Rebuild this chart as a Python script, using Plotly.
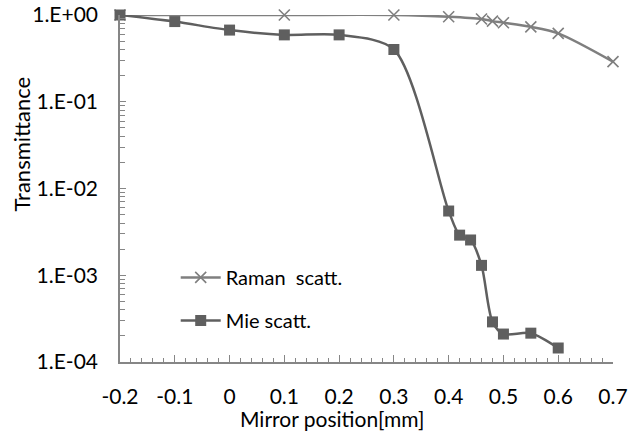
import plotly.graph_objects as go

raman_x = [-0.2, 0.1, 0.3, 0.4, 0.46, 0.48, 0.5, 0.55, 0.6, 0.7]
raman_y = [1.0, 1.0, 1.0, 0.955, 0.90, 0.85, 0.815, 0.73, 0.615, 0.29]

mie_x = [-0.2, -0.1, 0.0, 0.1, 0.2, 0.3, 0.4, 0.42, 0.44, 0.46, 0.48, 0.5, 0.55, 0.6]
mie_y = [1.0, 0.84, 0.67, 0.59, 0.59, 0.40, 5.5e-3, 2.9e-3, 2.55e-3, 1.3e-3,
         2.9e-4, 2.1e-4, 2.15e-4, 1.45e-4]

x_ticks = [-0.2, -0.1, 0, 0.1, 0.2, 0.3, 0.4, 0.5, 0.6, 0.7]
x_ticktext = ["-0.2", "-0.1", "0", "0.1", "0.2", "0.3", "0.4", "0.5", "0.6", "0.7"]
y_ticks = [1, 0.1, 0.01, 0.001, 0.0001]
y_ticktext = ["1.E+00", "1.E-01", "1.E-02", "1.E-03", "1.E-04"]

x_title = "Mirror position[mm]"
y_title = "Transmittance"

FONT = "Lato"
AXIS_COLOR = "#868686"
FS = 21

fig = go.Figure()
fig.add_trace(go.Scatter(
    x=raman_x, y=raman_y, name="Raman  scatt.", mode="lines+markers",
    line=dict(color="#7f7f7f", width=2.5, shape="spline", smoothing=0.8),
    marker=dict(symbol="x-thin", size=11, line=dict(color="#7f7f7f", width=1.6)),
    legendgroup="a", cliponaxis=False,
))
fig.add_trace(go.Scatter(
    x=mie_x, y=mie_y, name="Mie scatt.", mode="lines+markers",
    line=dict(color="#5f5f5f", width=2.5, shape="spline", smoothing=0.8),
    marker=dict(symbol="square", size=11, color="#5f5f5f"),
    legendgroup="b", cliponaxis=False,
))

fig.update_layout(
    width=639, height=436,
    margin=dict(l=120, r=26, t=15, b=74),
    paper_bgcolor="white", plot_bgcolor="white",
    font=dict(family=FONT, size=FS, color="#000000"),
    showlegend=True,
    legend=dict(
        x=0.113, y=0.30, xanchor="left", yanchor="top",
        bgcolor="rgba(0,0,0,0)", traceorder="grouped", tracegroupgap=14,
        font=dict(family=FONT, size=20, color="#000000"),
        itemwidth=40,
    ),
    xaxis=dict(
        range=[-0.2, 0.7], tickvals=x_ticks, ticktext=x_ticktext,
        showline=True, linecolor=AXIS_COLOR, linewidth=1.5,
        ticks="inside", ticklen=7, tickcolor=AXIS_COLOR, tickwidth=1.2,
        minor=dict(dtick=0.02, tick0=-0.2, ticks="inside", ticklen=4,
                   tickcolor=AXIS_COLOR, tickwidth=1),
        showgrid=False, zeroline=False, ticklabelstandoff=15,
        tickfont=dict(color="#000000"), automargin=False,
    ),
    yaxis=dict(
        type="log", range=[-4, 0], tickvals=y_ticks, ticktext=y_ticktext,
        showline=True, linecolor=AXIS_COLOR, linewidth=1.5,
        ticks="inside", ticklen=6, tickcolor=AXIS_COLOR, tickwidth=1.2,
        minor=dict(dtick="D1", ticks="inside", ticklen=5,
                   tickcolor=AXIS_COLOR, tickwidth=1),
        showgrid=False, zeroline=False, ticklabelstandoff=16,
        tickfont=dict(color="#000000"), automargin=False,
    ),
    annotations=[
        dict(text=x_title, xref="paper", yref="paper", x=0.43, y=-0.164,
             xanchor="center", yanchor="middle", showarrow=False,
             font=dict(family=FONT, size=FS, color="#000000")),
        dict(text=y_title, xref="paper", yref="paper", x=-0.2, y=0.628,
             xanchor="center", yanchor="middle", showarrow=False, textangle=-90,
             font=dict(family=FONT, size=22, color="#000000")),
    ],
)

# remove the default 8px page margin so the figure fills the window exactly
fig.write_html("out.html", config={"displayModeBar": False},
               post_script="document.body.style.margin='0';")
